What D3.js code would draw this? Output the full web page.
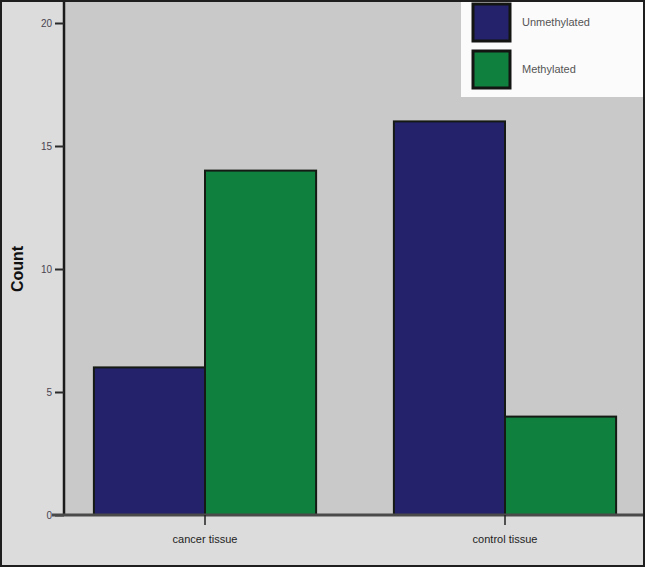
<!DOCTYPE html>
<html>
<head>
<meta charset="utf-8">
<script src="https://cdn.jsdelivr.net/npm/d3@7"></script>
<style>
  html, body { margin: 0; padding: 0; background: #dcdcdc; }
  svg { display: block; }
</style>
</head>
<body>
<script>
// chart data
const categories = ['cancer tissue', 'control tissue'];
const seriesNames = ['Unmethylated', 'Methylated'];
const unmethylated = [6, 16];
const methylated = [14, 4];
const yTicks = [0, 5, 10, 15, 20];

const seriesColors = {Unmethylated: '#24226b', Methylated: '#10803f'};

let width = 645;
let height = 567;

let svg = d3.select('body').append('svg')
    .attr('width', width)
    .attr('height', height);

// outer background + frame
svg.append('rect')
    .attr('x', 1).attr('y', 1)
    .attr('width', width - 2).attr('height', height - 2)
    .attr('fill', '#dcdcdc')
    .attr('stroke', '#1e1e1e')
    .attr('stroke-width', 2);

let y = d3.scaleLinear().domain([0, 20]).range([515, 23]);
let x = d3.scaleBand().domain(categories).range([55, 655]);
let xSub = d3.scaleBand().domain(seriesNames)
    .range([0, x.bandwidth()])
    .paddingOuter(0.35);

// plot panel
svg.append('rect')
    .attr('x', 65).attr('y', 2)
    .attr('width', width - 67).attr('height', y(0) - 2)
    .attr('fill', '#c9c9c9');

// bars
let rows = categories.map((c, i) => ({
  category: c,
  values: [
    {key: 'Unmethylated', value: unmethylated[i]},
    {key: 'Methylated', value: methylated[i]},
  ],
}));

let groups = svg.selectAll('g.group').data(rows).enter().append('g')
    .attr('class', 'group')
    .attr('transform', (d) => `translate(${x(d.category)},0)`);

groups.selectAll('rect').data((d) => d.values).enter().append('rect')
    .attr('x', (d) => xSub(d.key))
    .attr('y', (d) => y(d.value))
    .attr('width', xSub.bandwidth())
    .attr('height', (d) => y(0) - y(d.value))
    .attr('fill', (d) => seriesColors[d.key])
    .attr('stroke', '#151a15')
    .attr('stroke-width', 2);

// y axis
let yAxis = svg.append('g')
    .attr('transform', 'translate(64,0)')
    .call(d3.axisLeft(y).tickValues(yTicks).tickSize(9).tickPadding(3));
yAxis.select('.domain').attr('stroke', '#1a1a1a').attr('stroke-width', 2.5)
    .attr('d', `M0,2V${y(0)}`);
yAxis.selectAll('.tick line').attr('stroke', '#2a2a2a').attr('stroke-width', 2);
yAxis.selectAll('.tick text')
    .attr('fill', '#4a4450')
    .style('font-family', 'Liberation Sans, Arial, sans-serif')
    .style('font-size', '10px');

// x axis baseline
let xAxis = svg.append('g')
    .attr('transform', `translate(0,${y(0)})`)
    .call(d3.axisBottom(x).tickSize(10).tickPadding(10));
xAxis.select('.domain').attr('stroke', '#4a4a4a').attr('stroke-width', 3)
    .attr('d', `M52,0H${width - 2}`);
xAxis.selectAll('.tick line').attr('stroke', '#222').attr('stroke-width', 1.5);
xAxis.selectAll('.tick text')
    .attr('fill', '#1e1e1e')
    .style('font-family', 'Liberation Sans, Arial, sans-serif')
    .style('font-size', '11px');

// y axis title
svg.append('text')
    .attr('transform', `translate(23,${y(10)}) rotate(-90)`)
    .attr('text-anchor', 'middle')
    .style('font-family', 'Liberation Sans, Arial, sans-serif')
    .style('font-weight', 'bold')
    .style('font-size', '16px')
    .attr('fill', '#111')
    .text('Count');

// legend
let legend = svg.append('g');
legend.append('rect')
    .attr('x', 461).attr('y', 2)
    .attr('width', width - 463).attr('height', 95)
    .attr('fill', '#fbfbfb');

let items = legend.selectAll('g.item').data(seriesNames).enter().append('g')
    .attr('class', 'item')
    .attr('transform', (d, i) => `translate(473,${4 + i * 47})`);
items.append('rect')
    .attr('width', 37).attr('height', 37)
    .attr('fill', (d) => seriesColors[d])
    .attr('stroke', '#121512')
    .attr('stroke-width', 3);
items.append('text')
    .attr('x', 49).attr('y', 22)
    .attr('fill', '#555')
    .style('font-family', 'Liberation Sans, Arial, sans-serif')
    .style('font-size', '11px')
    .text((d) => d);
</script>
</body>
</html>
